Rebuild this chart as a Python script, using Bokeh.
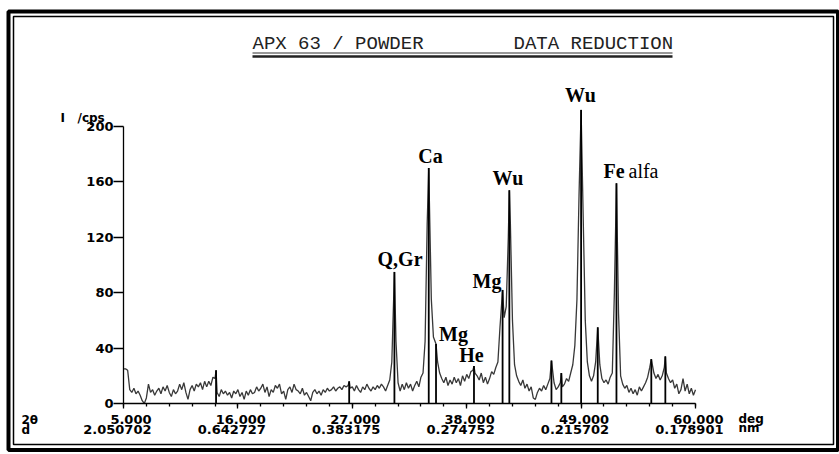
import numpy as np
from bokeh.plotting import figure
from bokeh.models import LinearAxis, FixedTicker, Range1d
from bokeh.core.properties import value
from bokeh.embed import file_html
from bokeh.resources import INLINE

# ---------------- data ----------------
# background scan, 2theta from 5.0 deg in 0.2 deg steps (cps)
scan_start = 5.0
scan_step = 0.2
background = [
    25, 25, 24, 10, 8, 11, 7, 9, 6, 2,          # 5.0 - 6.8
    0, 4, 14, 8, 10, 6, 9, 11, 7, 12,           # 7.0 - 8.8
    9, 13, 8, 5, 10, 7, 9, 14, 10, 15,          # 9.0 - 10.8
    8, 3, 10, 13, 9, 14, 12, 15, 10, 16,        # 11.0 - 12.8
    12, 16, 13, 19, 18, 8, 5, 10, 7, 9,         # 13.0 - 14.8
    6, 8, 4, 9, 7, 10, 5, 8, 3, 9,              # 15.0 - 16.8
    6, 10, 7, 8, 12, 9, 11, 14, 8, 12,          # 17.0 - 18.8
    5, 10, 8, 13, 11, 14, 7, 9, 3, 10,          # 19.0 - 20.8
    12, 8, 14, 10, 9, 7, 11, 6, 8, 5,           # 21.0 - 22.8
    2, 8, 10, 7, 9, 6, 10, 8, 11, 9,            # 23.0 - 24.8
    10, 12, 9, 11, 12, 10, 13, 12, 13, 11,      # 25.0 - 26.8
    12, 9, 13, 10, 8, 12, 10, 14, 11, 9,        # 27.0 - 28.8
    12, 10, 13, 11, 14, 12, 9, 13, 17, 30,      # 29.0 - 30.8
    60, 45, 15, 9, 14, 10, 15, 11, 14, 9,       # 31.0 - 32.8
    13, 16, 12, 19, 22, 45, 130, 150, 75, 48,   # 33.0 - 34.8
    44, 30, 22, 18, 15, 19, 13, 17, 14, 19,     # 35.0 - 36.8
    15, 18, 13, 20, 16, 21, 18, 23, 24, 22,     # 37.0 - 38.8
    20, 17, 22, 15, 19, 14, 18, 23, 21, 26,     # 39.0 - 40.8
    30, 55, 80, 62, 70, 120, 130, 60, 28, 20,   # 41.0 - 42.8
    16, 13, 17, 11, 14, 9, 12, 4, 3, 8,         # 43.0 - 44.8
    11, 9, 13, 10, 14, 18, 28, 15, 10, 12,      # 45.0 - 46.8
    15, 12, 14, 18, 16, 22, 28, 42, 75, 150,    # 47.0 - 48.8
    210, 135, 60, 30, 20, 16, 20, 30, 54, 28,   # 49.0 - 50.8
    18, 15, 17, 14, 19, 22, 80, 158, 65, 20,    # 51.0 - 52.8
    14, 11, 13, 8, 11, 7, 10, 6, 12, 9,         # 53.0 - 54.8
    12, 15, 19, 26, 31, 22, 18, 21, 17, 20,     # 55.0 - 56.8
    26, 22, 18, 15, 17, 11, 14, 7, 10, 18,      # 57.0 - 58.8
    9, 14, 7, 11, 6, 10,                        # 59.0 - 60.0
]

# reflections (stick lines): position (deg 2theta) and top (cps)
peak_pos = [13.9, 26.7, 31.05, 34.35, 35.05, 38.7, 41.45, 42.1,
            46.15, 47.1, 49.0, 50.6, 52.4, 55.75, 57.1]
peak_top = [24, 16, 95, 170, 43, 27, 82, 154,
            31, 22, 212, 55, 159, 32, 34]

# phase labels
label_text = ["Q,Gr", "Ca", "Mg", "He", "Mg", "Wu", "Wu"]
label_x = [31.59, 34.52, 36.73, 38.46, 39.95, 41.97, 48.94]
label_y = [104, 179, 50.5, 34.7, 88.8, 162.5, 222.4]
fe_x, fe_y = 51.15, 168.2
alfa_x = 53.56

# axes ticks and labels
x_major = [5, 16, 27, 38, 49, 60]
x_minor_step = 2.2
two_theta_labels = ["5.000", "16.000", "27.000", "38.000", "49.000", "60.000"]
d_labels = ["2.050702", "0.642727", "0.383175", "0.274752", "0.215702", "0.178901"]
y_ticks = [0, 40, 80, 120, 160, 200]
y_labels = ["0", "40", "80", "120", "160", "200"]

# ---------------- figure ----------------
W, H = 839, 454
kx = 572 / 55.0          # px per degree
ky = 277 / 200.0         # px per cps
x_lo = 5 - 123 / kx
x_hi = x_lo + W / kx
y_hi = 200 + 126 / ky
y_lo = y_hi - H / ky


def dx(px):  # page pixel -> data x (decorations only)
    return x_lo + px / kx


def dy(py):  # page pixel -> data y (decorations only)
    return y_hi - py / ky


p = figure(width=W, height=H, x_range=Range1d(x_lo, x_hi), y_range=Range1d(y_lo, y_hi),
           x_axis_type=None, y_axis_type=None, output_backend="svg",
           toolbar_location=None, min_border=0, title=None)
p.outline_line_color = None
p.background_fill_color = "white"
p.border_fill_color = "white"

# axes through the origin
x_minor = [round(x_major[0] + x_minor_step * i, 2) for i in range(26)]
xaxis = LinearAxis(fixed_location=0, bounds=(5, 60),
                   ticker=FixedTicker(ticks=x_major, minor_ticks=x_minor))
xaxis.major_tick_in = 0
xaxis.major_tick_out = 5
xaxis.minor_tick_in = 0
xaxis.minor_tick_out = 3
xaxis.axis_line_width = 1.3
xaxis.major_tick_line_width = 1.3
xaxis.minor_tick_line_width = 1.3
xaxis.major_label_text_font_size = "0px"
xaxis.major_label_text_color = None
p.add_layout(xaxis, "below")

yaxis = LinearAxis(fixed_location=5, bounds=(0, 200),
                   ticker=FixedTicker(ticks=y_ticks, minor_ticks=[]))
yaxis.major_tick_in = 0
yaxis.major_tick_out = 10
yaxis.minor_tick_out = 0
yaxis.axis_line_width = 1.3
yaxis.major_tick_line_width = 1.3
yaxis.major_label_text_font_size = "0px"
yaxis.major_label_text_color = None
p.add_layout(yaxis, "left")

# scan profile
grid_x = np.round(scan_start + scan_step * np.arange(len(background)), 2)
keep = np.array([min(abs(g - q) for q in peak_pos) > 0.06 for g in grid_x])
px_all = np.concatenate([grid_x[keep], peak_pos])
py_all = np.concatenate([np.array(background)[keep], peak_top])
order = np.argsort(px_all)
p.line(px_all[order], py_all[order], line_color="#383838", line_width=1.3)

# reflection sticks
p.segment(x0=peak_pos, y0=[0] * len(peak_pos), x1=peak_pos, y1=peak_top,
          line_color="black", line_width=1.8)

# phase labels
serif = value("Liberation Serif")
p.text(x=label_x, y=label_y, text=label_text, text_font=serif,
       text_font_style="bold", text_font_size="20px", text_align="center",
       text_baseline="alphabetic", text_color="black")
p.text(x=[fe_x], y=[fe_y], text=["Fe"], text_font=serif,
       text_font_style="bold", text_font_size="20px", text_align="left",
       text_baseline="alphabetic", text_color="black")
p.text(x=[alfa_x], y=[fe_y], text=["alfa"], text_font=serif,
       text_font_size="20px", text_align="left", text_baseline="alphabetic",
       text_color="black")

num_font = value("DejaVu Sans")
# y tick labels
p.text(x=[5] * len(y_ticks), y=y_ticks, text=y_labels, text_font=num_font,
       text_font_style="bold", text_font_size="13px", text_align="right",
       text_baseline="alphabetic", x_offset=-10, y_offset=0, text_color="black")
p.text(x=[5, 5], y=[200, 200], text=["I", "/cps"], text_font=num_font,
       text_font_style="bold", text_font_size="12px", text_align="left",
       text_baseline="alphabetic", x_offset=[-63, -46], y_offset=-9, text_color="black")

# x tick labels (2theta and d)
p.text(x=x_major, y=[0] * len(x_major), text=two_theta_labels, text_font=num_font,
       text_font_style="bold", text_font_size="13px", text_align="right",
       text_baseline="alphabetic", x_offset=28, y_offset=16, text_color="black")
p.text(x=x_major, y=[0] * len(x_major), text=d_labels, text_font=num_font,
       text_font_style="bold", text_font_size="13px", text_align="right",
       text_baseline="alphabetic", x_offset=28, y_offset=26, text_color="black")
p.text(x=[5, 5], y=[0, 0], text=["2θ", "d"], text_font=num_font,
       text_font_style="bold", text_font_size="12px", text_align="left",
       text_baseline="alphabetic", x_offset=-102, y_offset=[16, 26], text_color="black")
p.text(x=[60, 60], y=[0, 0], text=["deg", "nm"], text_font=num_font,
       text_font_style="bold", text_font_size="12px", text_align="left",
       text_baseline="alphabetic", x_offset=43, y_offset=[15, 24], text_color="black")

# title and its double underline
mono = value("Liberation Mono")
p.text(x=[dx(252), dx(513)], y=[dy(43), dy(43)], text=["APX 63 / POWDER", "DATA REDUCTION"],
       text_font=mono, text_font_size="19px", text_align="left",
       text_baseline="alphabetic", text_color="#222222")
p.segment(x0=[dx(252)], y0=[dy(52.5)], x1=[dx(672)], y1=[dy(52.5)],
          line_color="#333333", line_width=1.2)
p.segment(x0=[dx(252)], y0=[dy(56)], x1=[dx(672)], y1=[dy(56)],
          line_color="#222222", line_width=2.4)

# double frame
p.quad(left=[dx(8)], right=[dx(837.5)], top=[dy(11)], bottom=[dy(449.5)],
       fill_color=None, line_color="black", line_width=4)
p.quad(left=[dx(13)], right=[dx(833)], top=[dy(16)], bottom=[dy(444)],
       fill_color=None, line_color="black", line_width=1.5)

open("out.html", "w").write(file_html(p, INLINE))
